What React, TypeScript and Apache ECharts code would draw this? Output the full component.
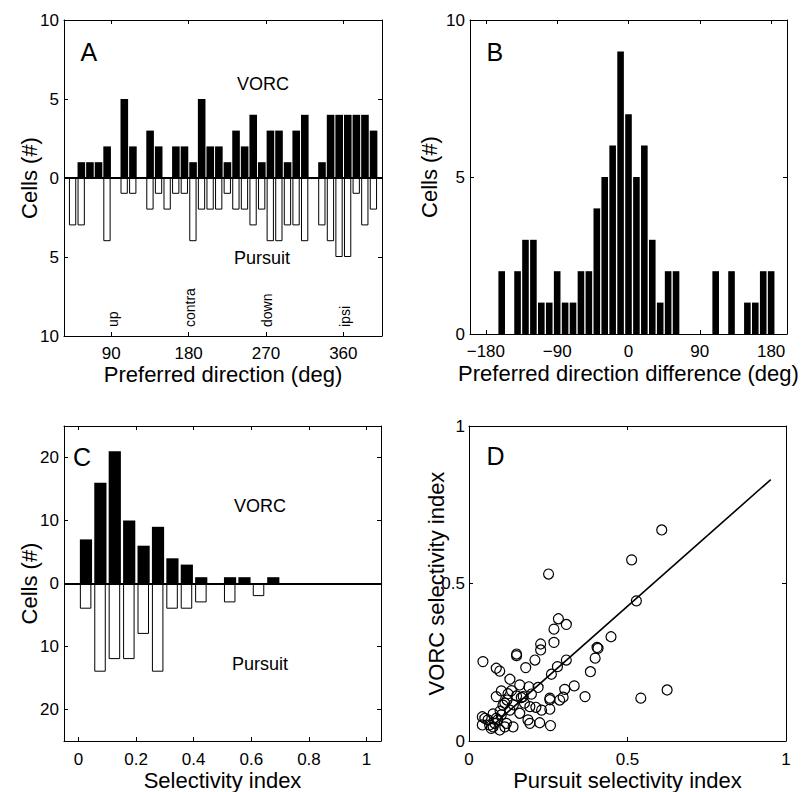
import React, { useEffect, useRef } from "react";
import * as echarts from "echarts";

const FONT = "'Liberation Sans', Arial, Helvetica, sans-serif";

// ---------- Panel A: preferred direction histogram ----------
const dirCenters = [45, 55, 65, 75, 85, 95, 105, 115, 125, 135, 145, 155, 165, 175, 185, 195, 205, 215, 225, 235, 245, 255, 265, 275, 285, 295, 305, 315, 325, 335, 345, 355, 365, 375, 385, 395];
const vorcDir = [0, 1, 1, 1, 2, 0, 5, 2, 0, 3, 2, 0, 2, 2, 1, 5, 2, 2, 1, 3, 2, 4, 1, 3, 3, 1, 3, 4, 0, 1, 4, 4, 4, 4, 4, 3];
const pursuitDir = [3, 3, 0, 0, 4, 0, 1, 1, 0, 2, 1, 2, 1, 1, 4, 2, 2, 2, 1, 2, 2, 3, 2, 4, 4, 3, 3, 4, 0, 3, 4, 5, 5, 1, 3, 2];
const dirTicks = [90, 180, 270, 360];
const dirNames = ["up", "contra", "down", "ipsi"];
const cellTicksAC = [-10, -5, 0, 5, 10];

// ---------- Panel B: preferred direction difference ----------
const diffCenters = [-180, -170, -160, -150, -140, -130, -120, -110, -100, -90, -80, -70, -60, -50, -40, -30, -20, -10, 0, 10, 20, 30, 40, 50, 60, 70, 80, 90, 100, 110, 120, 130, 140, 150, 160, 170, 180];
const diffCounts = [0, 0, 2, 0, 2, 3, 3, 1, 1, 2, 1, 1, 2, 2, 4, 5, 6, 9, 7, 5, 6, 3, 1, 2, 2, 0, 0, 0, 0, 2, 0, 2, 0, 1, 1, 2, 2];
const diffTicks = [-180, -90, 0, 90, 180];

// ---------- Panel C: selectivity index histogram ----------
const selCenters = [0.025, 0.075, 0.125, 0.175, 0.225, 0.275, 0.325, 0.375, 0.425, 0.475, 0.525, 0.575, 0.625, 0.675];
const vorcSel = [7, 16, 21, 10, 6, 9, 4, 3, 1, 0, 1, 1, 0, 1];
const pursuitSel = [4, 14, 12, 12, 8, 14, 4, 4, 3, 0, 3, 0, 2, 0];
const selTicks = [0, 0.2, 0.4, 0.6, 0.8, 1];

// ---------- Panel D: scatter ----------
const pursuitIdx = [0.513, 0.608, 0.251, 0.528, 0.282, 0.307, 0.268, 0.448, 0.226, 0.268, 0.226, 0.404, 0.407, 0.15, 0.15, 0.044, 0.208, 0.398, 0.307, 0.279, 0.179, 0.086, 0.097, 0.26, 0.383, 0.129, 0.16, 0.189, 0.218, 0.332, 0.302, 0.102, 0.134, 0.625, 0.086, 0.15, 0.171, 0.197, 0.255, 0.255, 0.366, 0.542, 0.286, 0.297, 0.107, 0.192, 0.211, 0.229, 0.255, 0.16, 0.129, 0.076, 0.042, 0.06, 0.086, 0.102, 0.042, 0.065, 0.081, 0.097, 0.118, 0.139, 0.192, 0.223, 0.257, 0.076, 0.091, 0.186, 0.123, 0.165, 0.113, 0.05, 0.113, 0.14, 0.175, 0.07, 0.098, 0.12];
const vorcIdx = [0.575, 0.67, 0.53, 0.445, 0.388, 0.37, 0.355, 0.331, 0.308, 0.313, 0.289, 0.297, 0.294, 0.276, 0.271, 0.252, 0.257, 0.263, 0.257, 0.236, 0.233, 0.231, 0.222, 0.212, 0.22, 0.196, 0.178, 0.172, 0.17, 0.175, 0.164, 0.159, 0.16, 0.162, 0.141, 0.143, 0.141, 0.149, 0.136, 0.131, 0.141, 0.136, 0.13, 0.139, 0.114, 0.109, 0.107, 0.098, 0.101, 0.088, 0.098, 0.086, 0.077, 0.067, 0.072, 0.083, 0.051, 0.051, 0.056, 0.035, 0.056, 0.045, 0.056, 0.058, 0.049, 0.045, 0.067, 0.067, 0.15, 0.138, 0.12, 0.072, 0.045, 0.115, 0.12, 0.04, 0.095, 0.13];
const fitX = [0.08, 0.952];
const fitY = [0.054, 0.83];
const unitTicks = [0, 0.5, 1];

const BLACK = "#000";

function xPair(grid: number, min: number, max: number, ticks: number[], name: string, nameGap: number, labelMargin: number, fmt?: (v: number) => string) {
  const common = {
    type: "value",
    gridIndex: grid,
    min,
    max,
    splitLine: { show: false },
    axisLine: { show: true, onZero: false, lineStyle: { color: BLACK, width: 1 } },
    axisTick: { show: true, inside: true, length: 4, customValues: ticks, lineStyle: { color: BLACK, width: 1 } },
  };
  return [
    {
      ...common,
      position: "bottom",
      axisLabel: { show: true, customValues: ticks, color: BLACK, fontSize: 17, fontFamily: FONT, margin: labelMargin, formatter: fmt },
      name,
      nameLocation: "middle",
      nameGap,
      nameMoveOverlap: false,
      nameTextStyle: { color: BLACK, fontSize: 22, fontFamily: FONT },
    },
    { ...common, position: "top", axisLabel: { show: false, customValues: ticks } },
  ];
}

function yPair(grid: number, min: number, max: number, ticks: number[], name: string, nameGap: number, labelMargin: number, fmt?: (v: number) => string) {
  const common = {
    type: "value",
    gridIndex: grid,
    min,
    max,
    splitLine: { show: false },
    axisLine: { show: true, onZero: false, lineStyle: { color: BLACK, width: 1 } },
    axisTick: { show: true, inside: true, length: 4, customValues: ticks, lineStyle: { color: BLACK, width: 1 } },
  };
  return [
    {
      ...common,
      position: "left",
      axisLabel: { show: true, customValues: ticks, color: BLACK, fontSize: 17, fontFamily: FONT, margin: labelMargin, formatter: fmt },
      name,
      nameLocation: "middle",
      nameGap,
      nameMoveOverlap: false,
      nameTextStyle: { color: BLACK, fontSize: 22, fontFamily: FONT },
    },
    { ...common, position: "right", axisLabel: { show: false, customValues: ticks } },
  ];
}

const absFmt = (v: number) => String(Math.abs(v));
const minusFmt = (v: number) => (v < 0 ? "\u2212" + String(-v) : String(v));

const zeroLine = {
  silent: true,
  symbol: ["none", "none"],
  label: { show: false },
  lineStyle: { color: BLACK, width: 2, type: "solid" },
  data: [{ yAxis: 0 }],
};

function txt(text: string, x: number, y: number, fontSize: number, align = "center", rotation = 0) {
  return {
    type: "text",
    x,
    y,
    rotation,
    silent: true,
    style: {
      text,
      fill: BLACK,
      font: `${fontSize}px ${FONT}`,
      fontSize,
      fontFamily: FONT,
      align,
      verticalAlign: "middle",
      textAlign: align,
      textVerticalAlign: "middle",
    },
  };
}

function buildOption() {
  const grids = [
    { left: 64, top: 20, width: 318, height: 316 },
    { left: 470, top: 20, width: 317, height: 314 },
    { left: 64, top: 426, width: 317, height: 315 },
    { left: 469, top: 426, width: 317, height: 315 },
  ].map((g) => ({ ...g, containLabel: false, outerBoundsMode: "none", show: false }));

  const xAxis = [
    ...xPair(0, 35, 405, dirTicks, "Preferred direction (deg)", 27, 9),
    ...xPair(1, -200, 200, diffTicks, "Preferred direction difference (deg)", 28, 9, minusFmt),
    ...xPair(2, -0.05, 1.05, selTicks, "Selectivity index", 28, 10),
    ...xPair(3, 0, 1, unitTicks, "Pursuit selectivity index", 28, 10),
  ];
  const yAxis = [
    ...yPair(0, -10, 10, cellTicksAC, "Cells (#)", 24, 5, absFmt),
    ...yPair(1, 0, 10, [0, 5, 10], "Cells (#)", 30, 5),
    ...yPair(2, -25, 25, [-20, -10, 0, 10, 20], "Cells (#)", 24, 5, absFmt),
    ...yPair(3, 0, 1, unitTicks, "VORC selectivity index", 22, 4),
  ];

  const series: any[] = [
    {
      type: "bar",
      name: "VORC A",
      xAxisIndex: 0,
      yAxisIndex: 0,
      barWidth: 7.6,
      barGap: "-100%",
      itemStyle: { color: BLACK },
      data: dirCenters.map((c, i) => [c, vorcDir[i]]),
      markLine: zeroLine,
    },
    {
      type: "bar",
      name: "Pursuit A",
      xAxisIndex: 0,
      yAxisIndex: 0,
      barWidth: 7.3,
      barGap: "-100%",
      itemStyle: { color: "#fff", borderColor: BLACK, borderWidth: 1 },
      data: dirCenters.map((c, i) => [c, pursuitDir[i] ? -pursuitDir[i] : null]),
    },
    {
      type: "bar",
      name: "Diff B",
      xAxisIndex: 2,
      yAxisIndex: 2,
      barWidth: 6.6,
      itemStyle: { color: BLACK },
      data: diffCenters.map((c, i) => [c, diffCounts[i]]),
    },
    {
      type: "bar",
      name: "VORC C",
      xAxisIndex: 4,
      yAxisIndex: 4,
      barWidth: 12.2,
      barGap: "-100%",
      itemStyle: { color: BLACK },
      data: selCenters.map((c, i) => [c, vorcSel[i]]),
      markLine: zeroLine,
    },
    {
      type: "bar",
      name: "Pursuit C",
      xAxisIndex: 4,
      yAxisIndex: 4,
      barWidth: 11.5,
      barGap: "-100%",
      itemStyle: { color: "#fff", borderColor: BLACK, borderWidth: 1 },
      data: selCenters.map((c, i) => [c, pursuitSel[i] ? -pursuitSel[i] : null]),
    },
    {
      type: "line",
      name: "Fit D",
      xAxisIndex: 6,
      yAxisIndex: 6,
      symbol: "none",
      lineStyle: { color: BLACK, width: 1.6 },
      data: fitX.map((x, i) => [x, fitY[i]]),
      z: 3,
    },
    {
      type: "scatter",
      name: "Cells D",
      xAxisIndex: 6,
      yAxisIndex: 6,
      symbol: "circle",
      symbolSize: 10,
      itemStyle: { color: "rgba(0,0,0,0)", borderColor: BLACK, borderWidth: 1.2, opacity: 1 },
      data: pursuitIdx.map((x, i) => [x, vorcIdx[i]]),
      z: 4,
    },
  ];

  const graphic = [
    txt("A", 80.5, 52, 25, "left"),
    txt("VORC", 263, 84, 18),
    txt("Pursuit", 262, 258, 18),
    ...dirNames.map((n, i) => txt(n, 111 + (dirTicks[i] - 90) * (77.4 / 90) + 1.5, 327, 14, "left", Math.PI / 2)),
    txt("B", 486.5, 52, 25, "left"),
    txt("C", 73, 457, 25, "left"),
    txt("VORC", 260, 506, 18),
    txt("Pursuit", 260, 664, 18),
    txt("D", 486.5, 456, 25, "left"),
  ];

  return {
    animation: false,
    backgroundColor: "#fff",
    textStyle: { fontFamily: FONT, color: BLACK },
    grid: grids,
    xAxis,
    yAxis,
    series,
    graphic,
  };
}

export default function App() {
  const ref = useRef<HTMLDivElement>(null);
  useEffect(() => {
    const chart = echarts.init(ref.current as HTMLDivElement, null, { renderer: "svg" });
    chart.setOption(buildOption() as any);
    return () => chart.dispose();
  }, []);
  return (
    <div
      ref={ref}
      style={{ position: "fixed", left: 0, top: 0, width: 801, height: 792, background: "#fff" }}
    />
  );
}
